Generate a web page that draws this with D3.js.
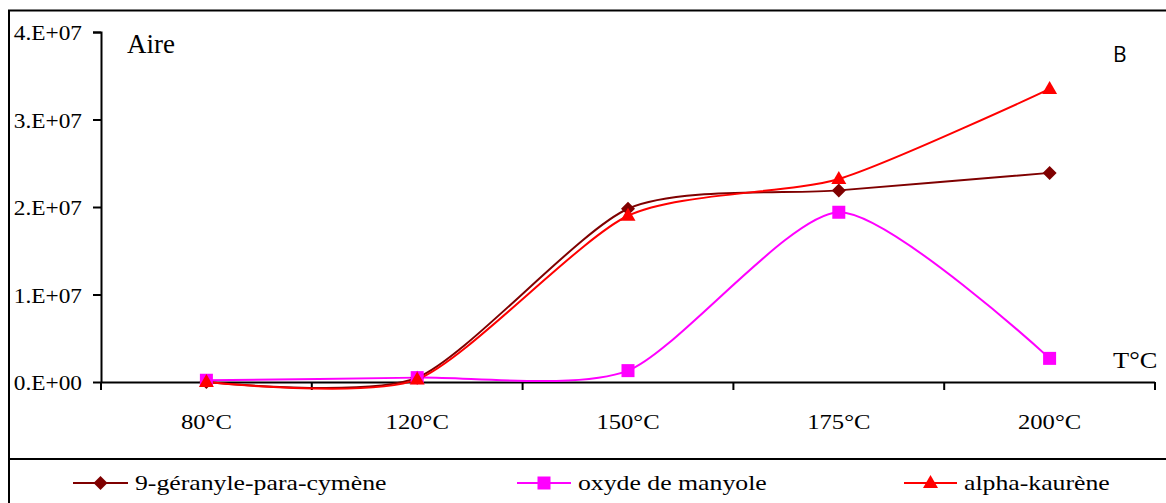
<!DOCTYPE html>
<html><head><meta charset="utf-8">
<script src="https://cdn.jsdelivr.net/npm/d3@7"></script>
<style>body{margin:0;background:#fff}svg{display:block}
.serif{font-family:"Liberation Serif","Times New Roman",serif !important;fill:#000}
</style>
</head><body>
<svg id="c" width="1166" height="503"></svg>
<script>
const categories = ["80°C","120°C","150°C","175°C","200°C"];
const geranyle = [0.0e7, 0.05e7, 1.98e7, 2.19e7, 2.39e7];
const oxyde = [0.02e7, 0.05e7, 0.13e7, 1.94e7, 0.27e7];
const kaurene = [0.0e7, 0.03e7, 1.9e7, 2.32e7, 3.35e7];
const yTicks = [0, 1e7, 2e7, 3e7, 4e7];
const yTickLabels = ["0.E+00","1.E+07","2.E+07","3.E+07","4.E+07"];
const seriesNames = ["9-géranyle-para-cymène","oxyde de manyole","alpha-kaurène"];

const svg = d3.select("#c");
function stretch(sel, k){
  sel.each(function(){
    const w = this.getComputedTextLength();
    d3.select(this).attr("textLength", w*k).attr("lengthAdjust","spacingAndGlyphs");
  });
}
// outer frame
svg.append("rect").attr("x",9).attr("y",10.5).attr("width",1170).attr("height",500)
  .attr("fill","none").attr("stroke","#000").attr("stroke-width",2);
svg.append("line").attr("x1",9).attr("x2",1166).attr("y1",459).attr("y2",459)
  .attr("stroke","#000").attr("stroke-width",2);

const x = d3.scaleBand().domain(categories).range([101,1155]);
const y = d3.scaleLinear().domain([0,4e7]).range([382,32]);

const yAxis = svg.append("g").attr("transform","translate(101,0)")
  .call(d3.axisLeft(y).tickValues(yTicks).tickFormat((d,i)=>yTickLabels[i]).tickSize(8).tickPadding(11));
yAxis.select(".domain").attr("d","M-8,32.5H0.5V382.5").attr("stroke-width",2);
yAxis.selectAll(".tick line").attr("stroke-width",2);
yAxis.selectAll("text").attr("class","serif").style("font-size","22px").attr("dy","0.36em");
stretch(yAxis.selectAll("text"), 1.06);

const xAxis = svg.append("g").attr("transform","translate(0,382)")
  .call(d3.axisBottom(x).tickSize(0).tickPadding(0));
xAxis.select(".domain").attr("d","M101,0.5H1155").attr("stroke-width",2);
xAxis.selectAll("text").attr("class","serif").style("font-size","22px").attr("y",47).attr("dy",0);
stretch(xAxis.selectAll("text"), 1.12);
const bounds = categories.map(c=>x(c)).concat([x(categories[categories.length-1])+x.bandwidth()]);
xAxis.selectAll(".sep").data(bounds).enter().append("line")
  .attr("x1",d=>d).attr("x2",d=>d).attr("y1",0).attr("y2",8).attr("stroke","#000").attr("stroke-width",2);

const cx = c => x(c) + x.bandwidth()/2;
const line = d3.line().x((d,i)=>cx(categories[i])).y(d=>y(d)).curve(d3.curveCardinal.tension(0.3));

const series = [
  {vals:geranyle, color:"#7f0000", shape:"diamond"},
  {vals:oxyde, color:"#ff00ff", shape:"square"},
  {vals:kaurene, color:"#ff0000", shape:"triangle"}
];
function marker(g, shape, color, px, py){
  if(shape==="diamond") g.append("path").attr("d",`M${px},${py-7}L${px+7},${py}L${px},${py+7}L${px-7},${py}Z`).attr("fill",color);
  else if(shape==="square") g.append("rect").attr("x",px-6.5).attr("y",py-6.5).attr("width",13).attr("height",13).attr("fill",color);
  else g.append("path").attr("d",`M${px},${py-8}L${px+7.5},${py+5}L${px-7.5},${py+5}Z`).attr("fill",color);
}
const plot = svg.append("g");
series.forEach(s=>{
  plot.append("path").attr("d",line(s.vals)).attr("fill","none").attr("stroke",s.color).attr("stroke-width",2);
});
series.forEach(s=>{
  s.vals.forEach((v,i)=>marker(plot,s.shape,s.color,cx(categories[i]),y(v)));
});

svg.append("text").attr("class","serif").attr("x",127).attr("y",53).style("font-size","27px").text("Aire");
const tc = svg.append("text").attr("class","serif").attr("x",1113).attr("y",368).style("font-size","24px").text("T°C");
stretch(tc, 1.1);
svg.append("text").attr("x",1113).attr("y",62).style("font-family","'Open Sans','Liberation Sans',sans-serif").style("font-size","21px").text("B");

// legend
const legX = [73, 517, 904];
const legW = [55, 54, 53];
const lg = svg.append("g");
series.forEach((s,i)=>{
  const lx = legX[i], ly = 483;
  const w = legW[i];
  lg.append("line").attr("x1",lx).attr("x2",lx+w).attr("y1",ly).attr("y2",ly).attr("stroke",s.color).attr("stroke-width",2);
  marker(lg,s.shape,s.color,lx+w/2,ly);
  const t = lg.append("text").attr("class","serif").attr("x",lx+w+7).attr("y",490).style("font-size","22px").text(seriesNames[i]);
  stretch(t, 1.17);
});
</script>
</body></html>
